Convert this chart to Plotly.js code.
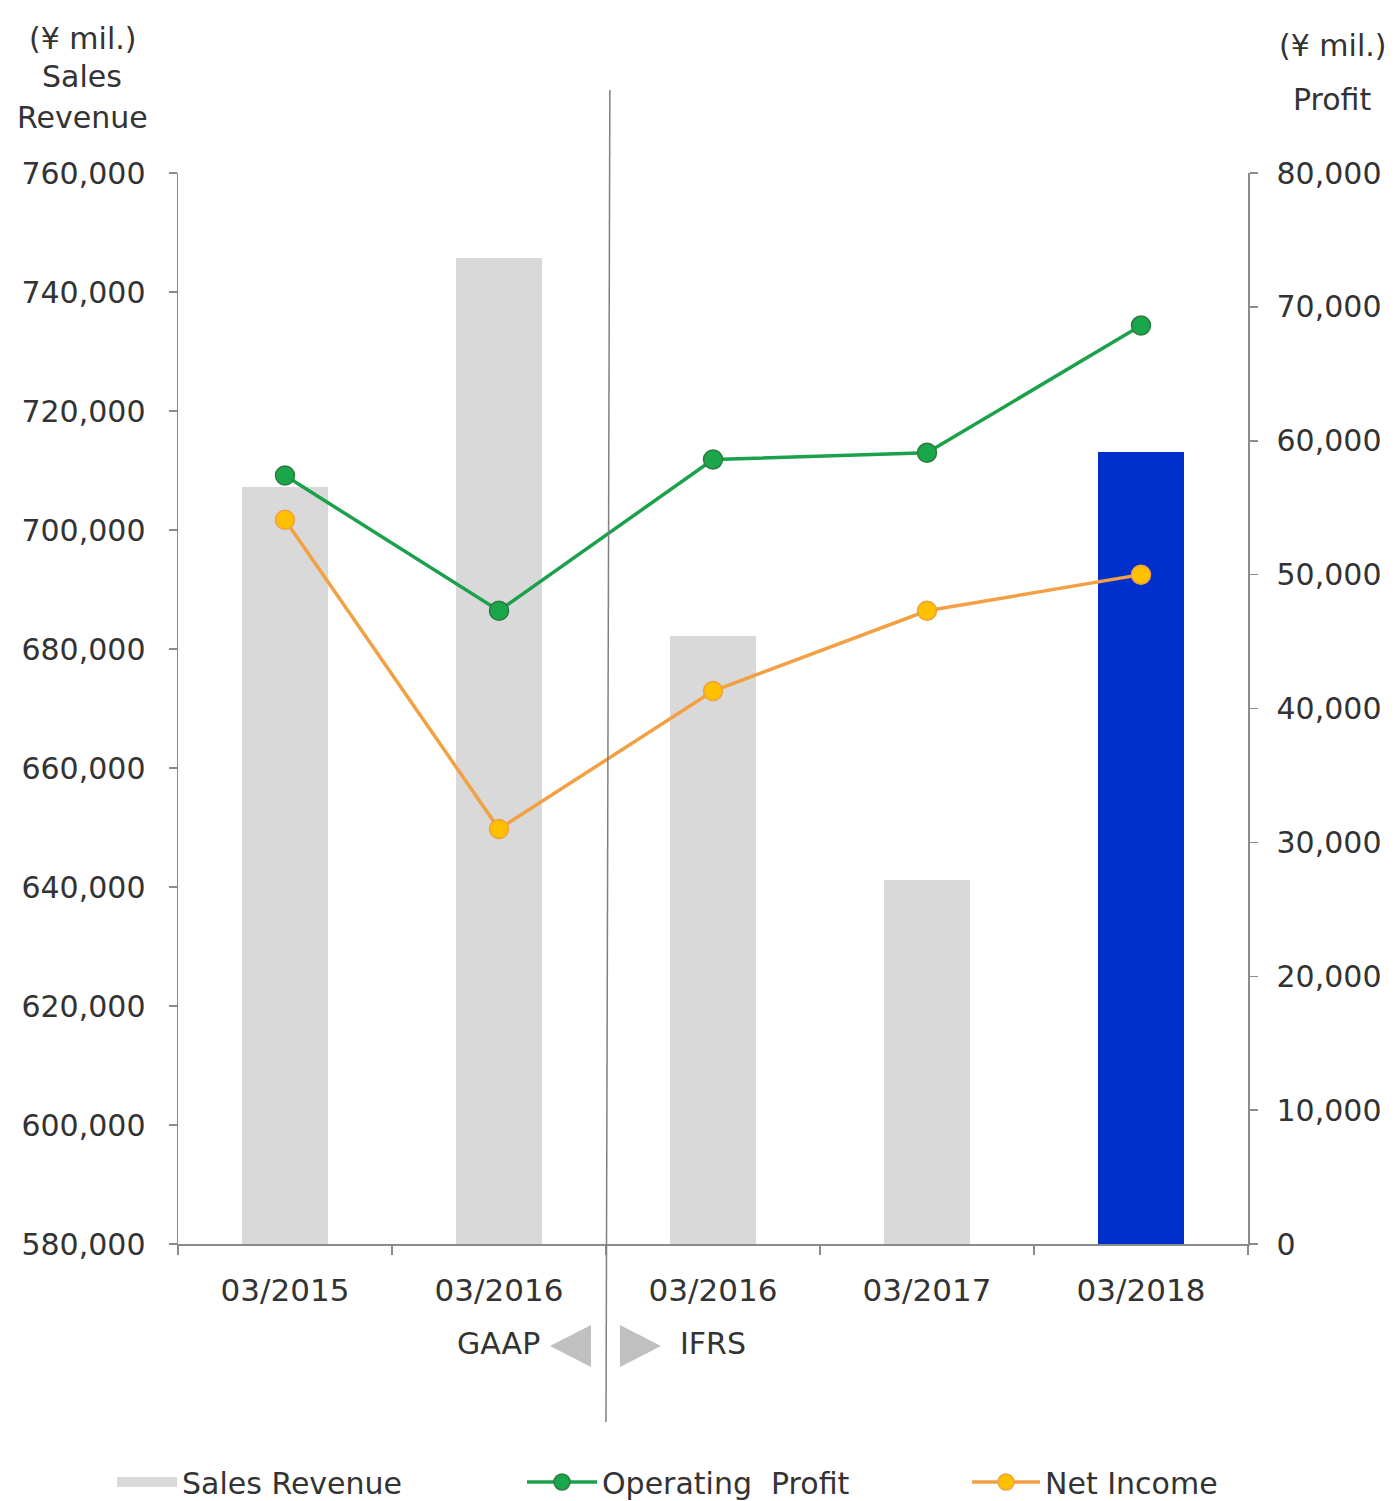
<!DOCTYPE html>
<html>
<head>
<meta charset="utf-8">
<script src="https://cdn.plot.ly/plotly-3.0.1.min.js"></script>
<style>
html,body{margin:0;padding:0;background:#fff;}
#chart{width:1395px;height:1501px;}
</style>
</head>
<body>
<div id="chart"></div>
<script>
// ---- data ----
var periods = ["03/2015", "03/2016", "03/2016", "03/2017", "03/2018"];
var salesRevenue = [707200, 745700, 682200, 641200, 713100];
var operatingProfit = [57400, 47300, 58600, 59100, 68600];
var netIncome = [54100, 31000, 41300, 47300, 50000];
var leftTicks = [580000, 600000, 620000, 640000, 660000, 680000, 700000, 720000, 740000, 760000];
var rightTicks = [0, 10000, 20000, 30000, 40000, 50000, 60000, 70000, 80000];

var idx = periods.map(function(_, i){ return i; });
var barColors = ["#d9d9d9", "#d9d9d9", "#d9d9d9", "#d9d9d9", "#0030cc"];
var FONT = "DejaVu Sans, Verdana, sans-serif";
var TXT = "#333333";
var AX = "#8c8c8c";

var traces = [
  {
    type: "bar", name: "Sales Revenue", x: idx, y: salesRevenue,
    width: 0.4, marker: {color: barColors}, yaxis: "y", showlegend: false,
    hoverinfo: "y"
  },
  {
    // legend swatch only (no data points)
    type: "scatter", mode: "lines", name: "Sales Revenue", x: [null], y: [null],
    yaxis: "y", legend: "legend", line: {color: "#d9d9d9", width: 18}, hoverinfo: "skip"
  },
  {
    type: "scatter", mode: "lines+markers", name: "Operating  Profit",
    x: idx, y: operatingProfit, yaxis: "y2", legend: "legend2",
    line: {color: "#1ba14b", width: 3.5},
    marker: {color: "#1aa64b", size: 19, line: {color: "#2d7a3e", width: 1.5}}
  },
  {
    type: "scatter", mode: "lines+markers", name: "Net Income",
    x: idx, y: netIncome, yaxis: "y2", legend: "legend3",
    line: {color: "#f2a043", width: 3.5},
    marker: {color: "#ffc000", size: 19, line: {color: "#f0a040", width: 1.5}}
  }
];

function py(px){ return (1244 - px) / 1071; }
function dx(px){ return (px - 178) / 214 - 0.5; }
function lx(px){ return (px - 5 - 178) / 1070; }

var legFont = {family: FONT, size: 30, color: TXT};

var layout = {
  width: 1395, height: 1501,
  margin: {l: 178, r: 147, t: 173, b: 257, pad: 0, autoexpand: false},
  paper_bgcolor: "#ffffff", plot_bgcolor: "#ffffff",
  font: {family: FONT, size: 30, color: TXT},
  showlegend: true,
  bargap: 0,
  xaxis: {
    range: [-0.5, 4.5], tickmode: "array", tickvals: idx, ticktext: periods,
    ticks: "", showgrid: false, zeroline: false,
    showline: true, linecolor: AX, linewidth: 1.5,
    tickfont: {family: FONT, size: 31, color: TXT},
    ticklabelstandoff: 18,
    minor: {tickmode: "array", tickvals: [-0.5, 0.5, 1.5, 2.5, 3.5, 4.5], ticks: "outside", ticklen: 9, tickcolor: AX, tickwidth: 1.5, showgrid: false},
    fixedrange: true
  },
  yaxis: {
    range: [580000, 760000], tickmode: "array", tickvals: leftTicks,
    tickformat: ",d", ticks: "outside", ticklen: 8, tickcolor: AX, tickwidth: 1.5,
    showline: true, linecolor: AX, linewidth: 1.5, showgrid: false, zeroline: false,
    tickfont: {family: FONT, size: 30, color: TXT},
    ticklabelstandoff: 17
  },
  yaxis2: {
    range: [0, 80000], tickmode: "array", tickvals: rightTicks,
    tickformat: ",d", overlaying: "y", side: "right",
    ticks: "outside", ticklen: 8, tickcolor: AX, tickwidth: 1.5,
    showline: true, linecolor: AX, linewidth: 1.5, showgrid: false, zeroline: false,
    tickfont: {family: FONT, size: 30, color: TXT},
    ticklabelstandoff: 13
  },
  legend: {orientation: "h", x: lx(117), y: py(1482), xanchor: "left", yanchor: "middle", font: legFont, itemwidth: 60, bgcolor: "rgba(0,0,0,0)"},
  legend2: {orientation: "h", x: lx(527), y: py(1482), xanchor: "left", yanchor: "middle", font: legFont, itemwidth: 70, bgcolor: "rgba(0,0,0,0)"},
  legend3: {orientation: "h", x: lx(972), y: py(1482), xanchor: "left", yanchor: "middle", font: legFont, itemwidth: 68, bgcolor: "rgba(0,0,0,0)"},
  shapes: [
    {type: "line", xref: "x", yref: "paper", x0: 1.5, x1: 1.518, y0: py(1422), y1: py(90), line: {color: "#808080", width: 1.5}},
    {type: "path", xref: "x", yref: "paper",
     path: "M " + dx(591) + " " + py(1325) + " L " + dx(550) + " " + py(1346) + " L " + dx(591) + " " + py(1367) + " Z",
     fillcolor: "#c0c0c0", line: {width: 0}},
    {type: "path", xref: "x", yref: "paper",
     path: "M " + dx(620) + " " + py(1325) + " L " + dx(661) + " " + py(1346) + " L " + dx(620) + " " + py(1367) + " Z",
     fillcolor: "#c0c0c0", line: {width: 0}}
  ],
  annotations: [
    {xref: "paper", yref: "paper", x: (82 - 178) / 1070, y: py(38), text: "(¥ mil.)", showarrow: false, xanchor: "center", yanchor: "middle", font: {family: FONT, size: 30, color: TXT}},
    {xref: "paper", yref: "paper", x: (82 - 178) / 1070, y: py(76), text: "Sales", showarrow: false, xanchor: "center", yanchor: "middle", font: {family: FONT, size: 30, color: TXT}},
    {xref: "paper", yref: "paper", x: (82 - 178) / 1070, y: py(118), text: "Revenue", showarrow: false, xanchor: "center", yanchor: "middle", font: {family: FONT, size: 30, color: TXT}},
    {xref: "paper", yref: "paper", x: (1332 - 178) / 1070, y: py(46), text: "(¥ mil.)", showarrow: false, xanchor: "center", yanchor: "middle", font: {family: FONT, size: 30, color: TXT}},
    {xref: "paper", yref: "paper", x: (1332 - 178) / 1070, y: py(99), text: "Profit", showarrow: false, xanchor: "center", yanchor: "middle", font: {family: FONT, size: 30, color: TXT}},
    {xref: "x", yref: "paper", x: dx(498), y: py(1343), text: "GAAP", showarrow: false, xanchor: "center", yanchor: "middle", font: {family: FONT, size: 30, color: TXT}},
    {xref: "x", yref: "paper", x: dx(713), y: py(1343), text: "IFRS", showarrow: false, xanchor: "center", yanchor: "middle", font: {family: FONT, size: 30, color: TXT}}
  ]
};

Plotly.newPlot("chart", traces, layout, {displayModeBar: false, staticPlot: true});
</script>
</body>
</html>
